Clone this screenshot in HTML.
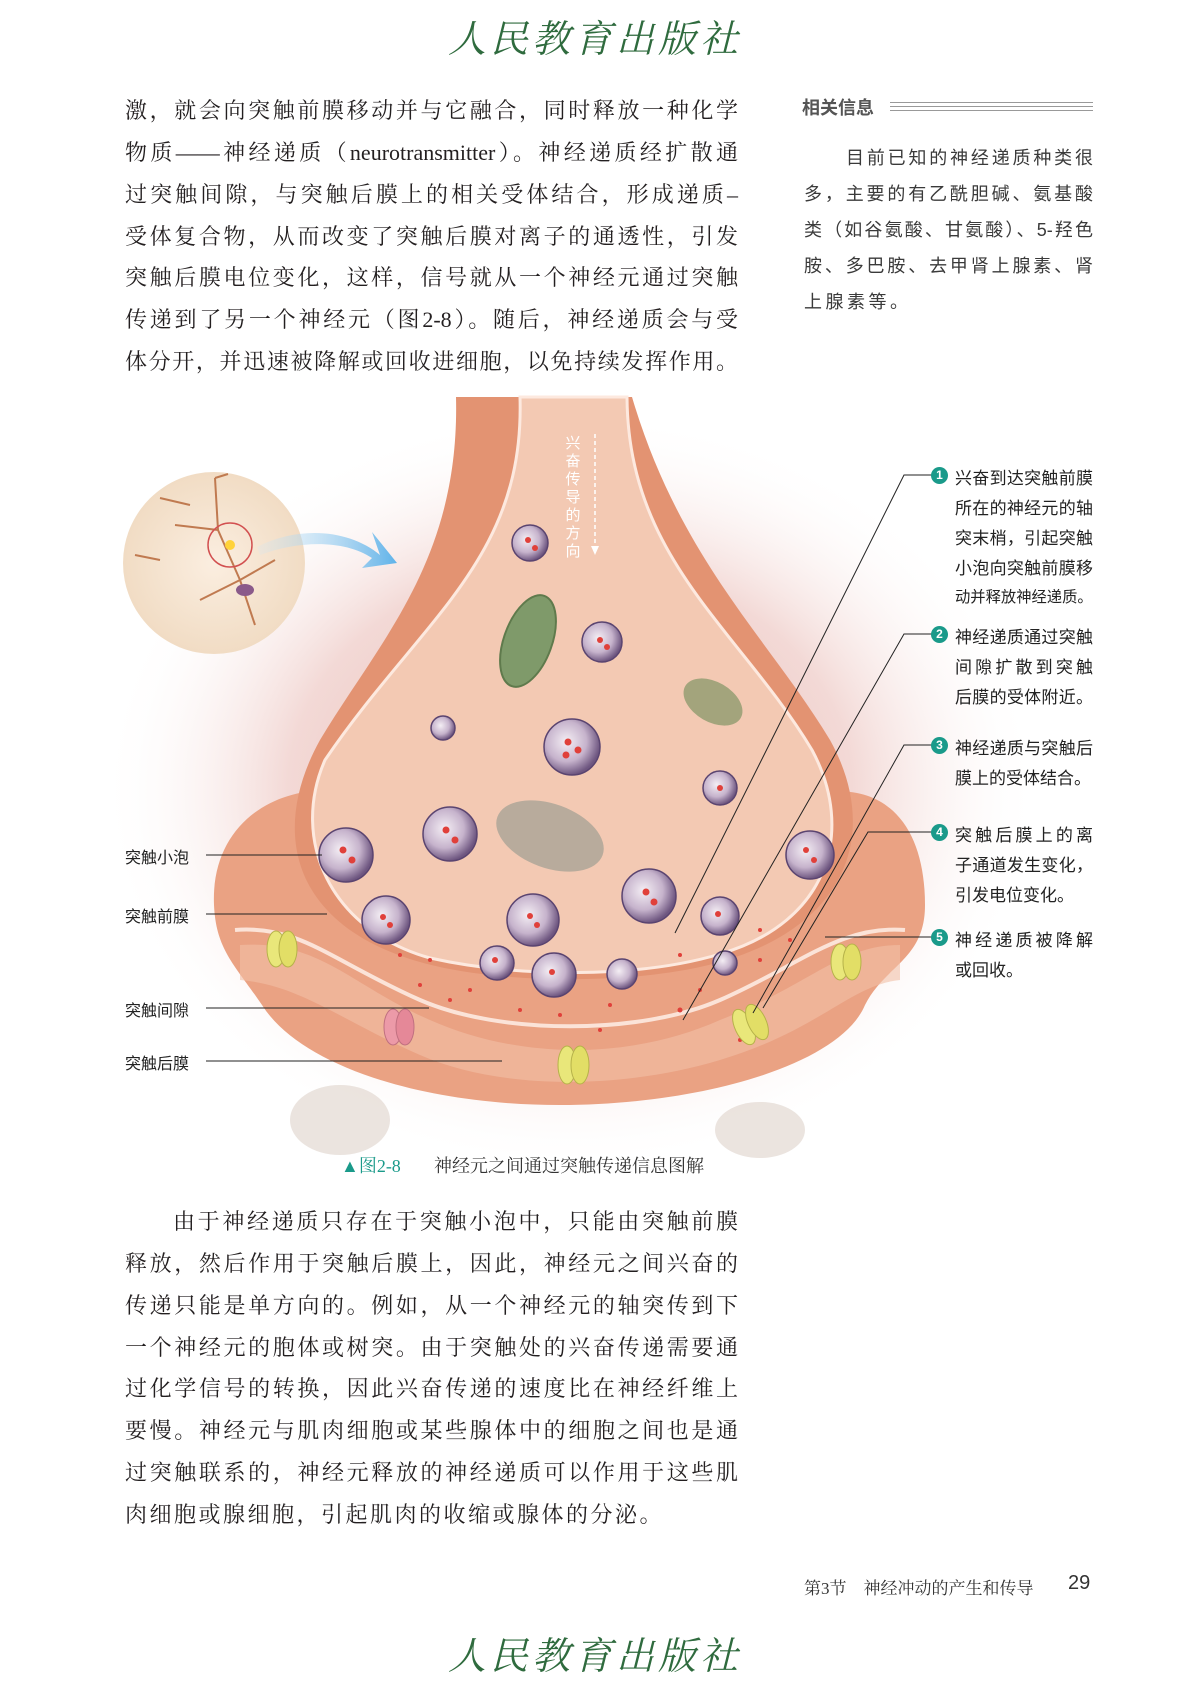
<!DOCTYPE html>
<html><head><meta charset="utf-8">
<style>
body{margin:0;background:#fff;}
#p{position:relative;width:1190px;height:1683px;overflow:hidden;background:#fff;font-family:"Liberation Serif","Noto Serif CJK SC",serif;color:#231f20;}
.t{position:absolute;white-space:nowrap;}
.j{position:absolute;white-space:nowrap;text-align:justify;text-align-last:justify;}
.body{font-size:22px;width:613px;}
.side{font-size:18px;color:#3a3a3a;font-family:"Liberation Sans","Noto Sans CJK SC",sans-serif;}
.lab{font-size:16px;color:#222;font-family:"Liberation Sans","Noto Sans CJK SC",sans-serif;}
.rl{font-size:17px;width:138px;color:#222;font-family:"Liberation Sans","Noto Sans CJK SC",sans-serif;}
.num{position:absolute;width:17px;height:17px;border-radius:50%;background:#1a9a8a;color:#fff;font-size:12px;text-align:center;line-height:17px;font-family:"Liberation Sans",sans-serif;font-weight:bold;}
.logo{position:absolute;left:395px;width:400px;text-align:center;font-size:38px;color:#2f6b3e;font-style:italic;letter-spacing:4px;white-space:nowrap;font-family:"Noto Serif CJK SC",serif;}
</style></head><body><div id="p">
<div class="logo" style="top:8px;">人民教育出版社</div>
<div class="logo" style="top:1625px;">人民教育出版社</div>

<div class="j body" style="left:125px;top:94px;">激，就会向突触前膜移动并与它融合，同时释放一种化学</div>
<div class="j body" style="left:125px;top:136px;">物质——神经递质（neurotransmitter）。神经递质经扩散通</div>
<div class="j body" style="left:125px;top:178px;">过突触间隙，与突触后膜上的相关受体结合，形成递质–</div>
<div class="j body" style="left:125px;top:220px;">受体复合物，从而改变了突触后膜对离子的通透性，引发</div>
<div class="j body" style="left:125px;top:261px;">突触后膜电位变化，这样，信号就从一个神经元通过突触</div>
<div class="j body" style="left:125px;top:303px;">传递到了另一个神经元（图2-8）。随后，神经递质会与受</div>
<div class="j body" style="left:125px;top:345px;">体分开，并迅速被降解或回收进细胞，以免持续发挥作用。</div>

<div class="t" style="left:802px;top:94px;font-size:18px;font-weight:bold;color:#555;font-family:'Liberation Sans','Noto Sans CJK SC',sans-serif;">相关信息</div>
<div style="position:absolute;left:890px;top:102px;width:203px;height:1px;background:#999;box-shadow:0 4px 0 #999,0 8px 0 #999;"></div>
<div class="j side" style="left:846px;top:144px;width:247px;">目前已知的神经递质种类很</div>
<div class="j side" style="left:804px;top:180px;width:289px;">多，主要的有乙酰胆碱、氨基酸</div>
<div class="j side" style="left:804px;top:216px;width:289px;">类（如谷氨酸、甘氨酸）、5-羟色</div>
<div class="j side" style="left:804px;top:252px;width:289px;">胺、多巴胺、去甲肾上腺素、肾</div>
<div class="t side" style="left:804px;top:288px;letter-spacing:3.5px;">上腺素等。</div>

<svg style="position:absolute;left:0;top:0" width="1190" height="1683" viewBox="0 0 1190 1683">
<defs>
<radialGradient id="glow" cx="0.5" cy="0.5" r="0.5"><stop offset="0" stop-color="#e9b8b0"/><stop offset="0.6" stop-color="#f3d9d6"/><stop offset="1" stop-color="#fff" stop-opacity="0"/></radialGradient>
<radialGradient id="ves" cx="0.4" cy="0.4" r="0.6"><stop offset="0" stop-color="#f4eef4"/><stop offset="0.6" stop-color="#c6b3cc"/><stop offset="1" stop-color="#6e5680"/></radialGradient>
<radialGradient id="ins" cx="0.5" cy="0.5" r="0.5"><stop offset="0" stop-color="#fbeee0"/><stop offset="1" stop-color="#f1dcc4"/></radialGradient>
<linearGradient id="arr" x1="0" x2="1"><stop offset="0" stop-color="#cfe8f8" stop-opacity="0.2"/><stop offset="1" stop-color="#5fb3ea"/></linearGradient>
</defs>
<ellipse cx="570" cy="790" rx="470" ry="380" fill="url(#glow)"/>
<path d="M214 905 C210 810 300 770 380 800 L790 800 C880 770 925 820 925 905 C925 960 885 965 865 1005 C840 1065 700 1105 560 1105 C420 1105 300 1065 262 1005 C235 965 216 950 214 905Z" fill="#eaa283"/>
<path d="M235 930 C300 925 330 960 420 1000 C500 1035 640 1035 720 1000 C800 965 840 925 905 930" fill="none" stroke="#fbe3d8" stroke-width="4"/>
<path d="M240 945 C320 940 350 985 430 1020 C520 1060 630 1060 720 1020 C810 985 840 945 900 945 L900 980 C850 985 820 1030 720 1060 C620 1090 500 1090 420 1055 C340 1020 300 985 240 980Z" fill="#f2bfa6" opacity="0.6"/>
<path d="M456 397 C460 560 380 640 320 740 C270 830 290 925 420 962 C500 985 640 985 720 962 C850 925 880 830 830 740 C770 640 680 560 632 397Z" fill="#e39372"/>
<path d="M520 397 C525 560 420 620 325 760 C290 840 330 930 430 958 C520 978 640 978 720 954 C830 922 855 830 812 750 C740 630 628 560 627 397Z" fill="#f3c9b3" stroke="#fde9df" stroke-width="3"/>
<ellipse cx="528" cy="641" rx="24" ry="48" transform="rotate(20 528 641)" fill="#7f9a6a" stroke="#5f7a4c" stroke-width="2"/>
<ellipse cx="713" cy="702" rx="32" ry="20" transform="rotate(30 713 702)" fill="#a3a47c"/>
<ellipse cx="550" cy="836" rx="56" ry="32" transform="rotate(20 550 836)" fill="#b8ab9c"/>
<ellipse cx="340" cy="1120" rx="50" ry="35" fill="#d8c9c0" opacity="0.5"/>
<ellipse cx="760" cy="1130" rx="45" ry="28" fill="#d8c9c0" opacity="0.5"/>
<g fill="url(#ves)" stroke="#5a4470" stroke-width="1.5">
<circle cx="530" cy="543" r="18"/><circle cx="602" cy="642" r="20"/><circle cx="443" cy="728" r="12"/><circle cx="572" cy="747" r="28"/><circle cx="720" cy="788" r="17"/><circle cx="346" cy="855" r="27"/><circle cx="450" cy="834" r="27"/><circle cx="810" cy="855" r="24"/><circle cx="386" cy="920" r="24"/><circle cx="533" cy="920" r="26"/><circle cx="649" cy="896" r="27"/><circle cx="720" cy="916" r="19"/><circle cx="497" cy="963" r="17"/><circle cx="554" cy="975" r="22"/><circle cx="622" cy="974" r="15"/><circle cx="725" cy="963" r="12"/>
</g>
<g fill="#e0403a">
<circle cx="528" cy="540" r="3"/><circle cx="535" cy="548" r="3"/><circle cx="600" cy="640" r="3"/><circle cx="607" cy="647" r="3"/><circle cx="568" cy="742" r="3.5"/><circle cx="578" cy="750" r="3.5"/><circle cx="566" cy="755" r="3.5"/><circle cx="343" cy="850" r="3.5"/><circle cx="352" cy="860" r="3.5"/><circle cx="446" cy="830" r="3.5"/><circle cx="455" cy="840" r="3.5"/><circle cx="806" cy="850" r="3"/><circle cx="814" cy="860" r="3"/><circle cx="383" cy="917" r="3"/><circle cx="390" cy="925" r="3"/><circle cx="530" cy="916" r="3"/><circle cx="537" cy="925" r="3"/><circle cx="646" cy="892" r="3.5"/><circle cx="654" cy="902" r="3.5"/><circle cx="718" cy="914" r="3"/><circle cx="552" cy="972" r="3"/><circle cx="495" cy="960" r="3"/><circle cx="720" cy="788" r="3"/>
<circle cx="420" cy="985" r="2"/><circle cx="450" cy="1000" r="2"/><circle cx="470" cy="990" r="2"/><circle cx="520" cy="1010" r="2"/><circle cx="560" cy="1015" r="2"/><circle cx="610" cy="1005" r="2"/><circle cx="680" cy="1010" r="2.5"/><circle cx="700" cy="990" r="2"/><circle cx="760" cy="960" r="2"/><circle cx="790" cy="940" r="2"/><circle cx="760" cy="930" r="2"/><circle cx="680" cy="955" r="2"/><circle cx="430" cy="960" r="2"/><circle cx="400" cy="955" r="2"/><circle cx="740" cy="1040" r="2"/><circle cx="600" cy="1030" r="2"/>
</g>
<g stroke="#b6b24a" stroke-width="1">
<ellipse cx="276" cy="949" rx="9" ry="18" fill="#e9e77a"/><ellipse cx="288" cy="949" rx="9" ry="18" fill="#e2de66"/>
<ellipse cx="840" cy="962" rx="9" ry="18" fill="#e9e77a"/><ellipse cx="852" cy="962" rx="9" ry="18" fill="#e2de66"/>
<ellipse cx="567" cy="1065" rx="9" ry="19" fill="#e9e77a"/><ellipse cx="580" cy="1065" rx="9" ry="19" fill="#e2de66"/>
<ellipse cx="744" cy="1027" rx="9" ry="19" fill="#e9e77a" transform="rotate(-25 744 1027)"/><ellipse cx="757" cy="1022" rx="9" ry="19" fill="#e2de66" transform="rotate(-25 757 1022)"/>
<ellipse cx="393" cy="1027" rx="9" ry="18" fill="#ec9aa8" stroke="#c07080"/><ellipse cx="405" cy="1027" rx="9" ry="18" fill="#e58898" stroke="#c07080"/>
</g>
<circle cx="214" cy="563" r="91" fill="url(#ins)"/>
<g stroke="#c07a50" stroke-width="2" fill="none"><path d="M215 478 L218 530 L240 580 M218 530 L175 525 M240 580 L275 560 M240 580 L255 625 M240 580 L200 600 M215 478 L228 474 M190 505 L160 498 M160 560 L135 555"/></g>
<ellipse cx="245" cy="590" rx="9" ry="6" fill="#8a5a8a"/>
<circle cx="230" cy="545" r="22" fill="none" stroke="#d25050" stroke-width="1.5"/><circle cx="230" cy="545" r="5" fill="#ffd23a"/>
<path d="M257 547 C300 525 350 530 380 555 L372 532 L397 563 L362 568 L372 558 C345 540 300 540 260 555Z" fill="url(#arr)"/>
<line x1="595" y1="434" x2="595" y2="550" stroke="#fff" stroke-width="1.5" stroke-dasharray="4 3"/>
<path d="M591 546 L595 555 L599 546Z" fill="#fff"/>
<g font-family="Liberation Sans,Noto Sans CJK SC,sans-serif" font-size="15" fill="#fff">
<text x="573" y="448" text-anchor="middle">兴</text><text x="573" y="466" text-anchor="middle">奋</text><text x="573" y="484" text-anchor="middle">传</text><text x="573" y="502" text-anchor="middle">导</text><text x="573" y="520" text-anchor="middle">的</text><text x="573" y="538" text-anchor="middle">方</text><text x="573" y="556" text-anchor="middle">向</text>
</g>
<g stroke="#222" stroke-width="1" fill="none">
<path d="M933 475 L904 475 L675 933"/>
<path d="M933 634 L904 634 L683 1020"/>
<path d="M933 745 L904 745 L753 1013"/>
<path d="M933 832 L868 832 L763 1008"/>
<path d="M933 937 L825 937"/>
<path d="M206 855 L322 855"/><path d="M206 914 L327 914"/><path d="M206 1008 L429 1008"/><path d="M206 1061 L502 1061"/>
</g>
</svg>

<div class="t lab" style="left:125px;top:844px;">突触小泡</div>
<div class="t lab" style="left:125px;top:903px;">突触前膜</div>
<div class="t lab" style="left:125px;top:997px;">突触间隙</div>
<div class="t lab" style="left:125px;top:1050px;">突触后膜</div>

<div class="num" style="left:931px;top:467px;">1</div>
<div class="j rl" style="left:955px;top:464px;">兴奋到达突触前膜</div>
<div class="j rl" style="left:955px;top:494px;">所在的神经元的轴</div>
<div class="j rl" style="left:955px;top:524px;">突末梢，引起突触</div>
<div class="j rl" style="left:955px;top:554px;">小泡向突触前膜移</div>
<div class="t rl" style="left:955px;top:585px;font-size:15.3px;">动并释放神经递质。</div>
<div class="num" style="left:931px;top:626px;">2</div>
<div class="j rl" style="left:955px;top:623px;">神经递质通过突触</div>
<div class="j rl" style="left:955px;top:653px;">间隙扩散到突触</div>
<div class="j rl" style="left:955px;top:683px;">后膜的受体附近。</div>
<div class="num" style="left:931px;top:737px;">3</div>
<div class="j rl" style="left:955px;top:734px;">神经递质与突触后</div>
<div class="t rl" style="left:955px;top:764px;">膜上的受体结合。</div>
<div class="num" style="left:931px;top:824px;">4</div>
<div class="j rl" style="left:955px;top:821px;">突触后膜上的离</div>
<div class="j rl" style="left:955px;top:851px;">子通道发生变化，</div>
<div class="t rl" style="left:955px;top:881px;">引发电位变化。</div>
<div class="num" style="left:931px;top:929px;">5</div>
<div class="j rl" style="left:955px;top:926px;">神经递质被降解</div>
<div class="t rl" style="left:955px;top:956px;">或回收。</div>

<div class="t" style="left:341px;top:1152px;font-size:18px;color:#1a9a8a;">▲图2-8</div>
<div class="t" style="left:434px;top:1152px;font-size:18px;color:#333;">神经元之间通过突触传递信息图解</div>

<div class="j" style="left:173px;top:1205px;font-size:22px;width:565px;">由于神经递质只存在于突触小泡中，只能由突触前膜</div>
<div class="j body" style="left:125px;top:1247px;">释放，然后作用于突触后膜上，因此，神经元之间兴奋的</div>
<div class="j body" style="left:125px;top:1289px;">传递只能是单方向的。例如，从一个神经元的轴突传到下</div>
<div class="j body" style="left:125px;top:1331px;">一个神经元的胞体或树突。由于突触处的兴奋传递需要通</div>
<div class="j body" style="left:125px;top:1372px;">过化学信号的转换，因此兴奋传递的速度比在神经纤维上</div>
<div class="j body" style="left:125px;top:1414px;">要慢。神经元与肌肉细胞或某些腺体中的细胞之间也是通</div>
<div class="j body" style="left:125px;top:1456px;">过突触联系的，神经元释放的神经递质可以作用于这些肌</div>
<div class="t" style="left:125px;top:1498px;font-size:22px;letter-spacing:2.5px;">肉细胞或腺细胞，引起肌肉的收缩或腺体的分泌。</div>

<div class="t" style="left:804px;top:1574px;font-size:17px;color:#333;">第3节　神经冲动的产生和传导</div>
<div class="t" style="left:1068px;top:1572px;font-size:20px;color:#333;font-family:'Liberation Sans',sans-serif;">29</div>
</div></body></html>
